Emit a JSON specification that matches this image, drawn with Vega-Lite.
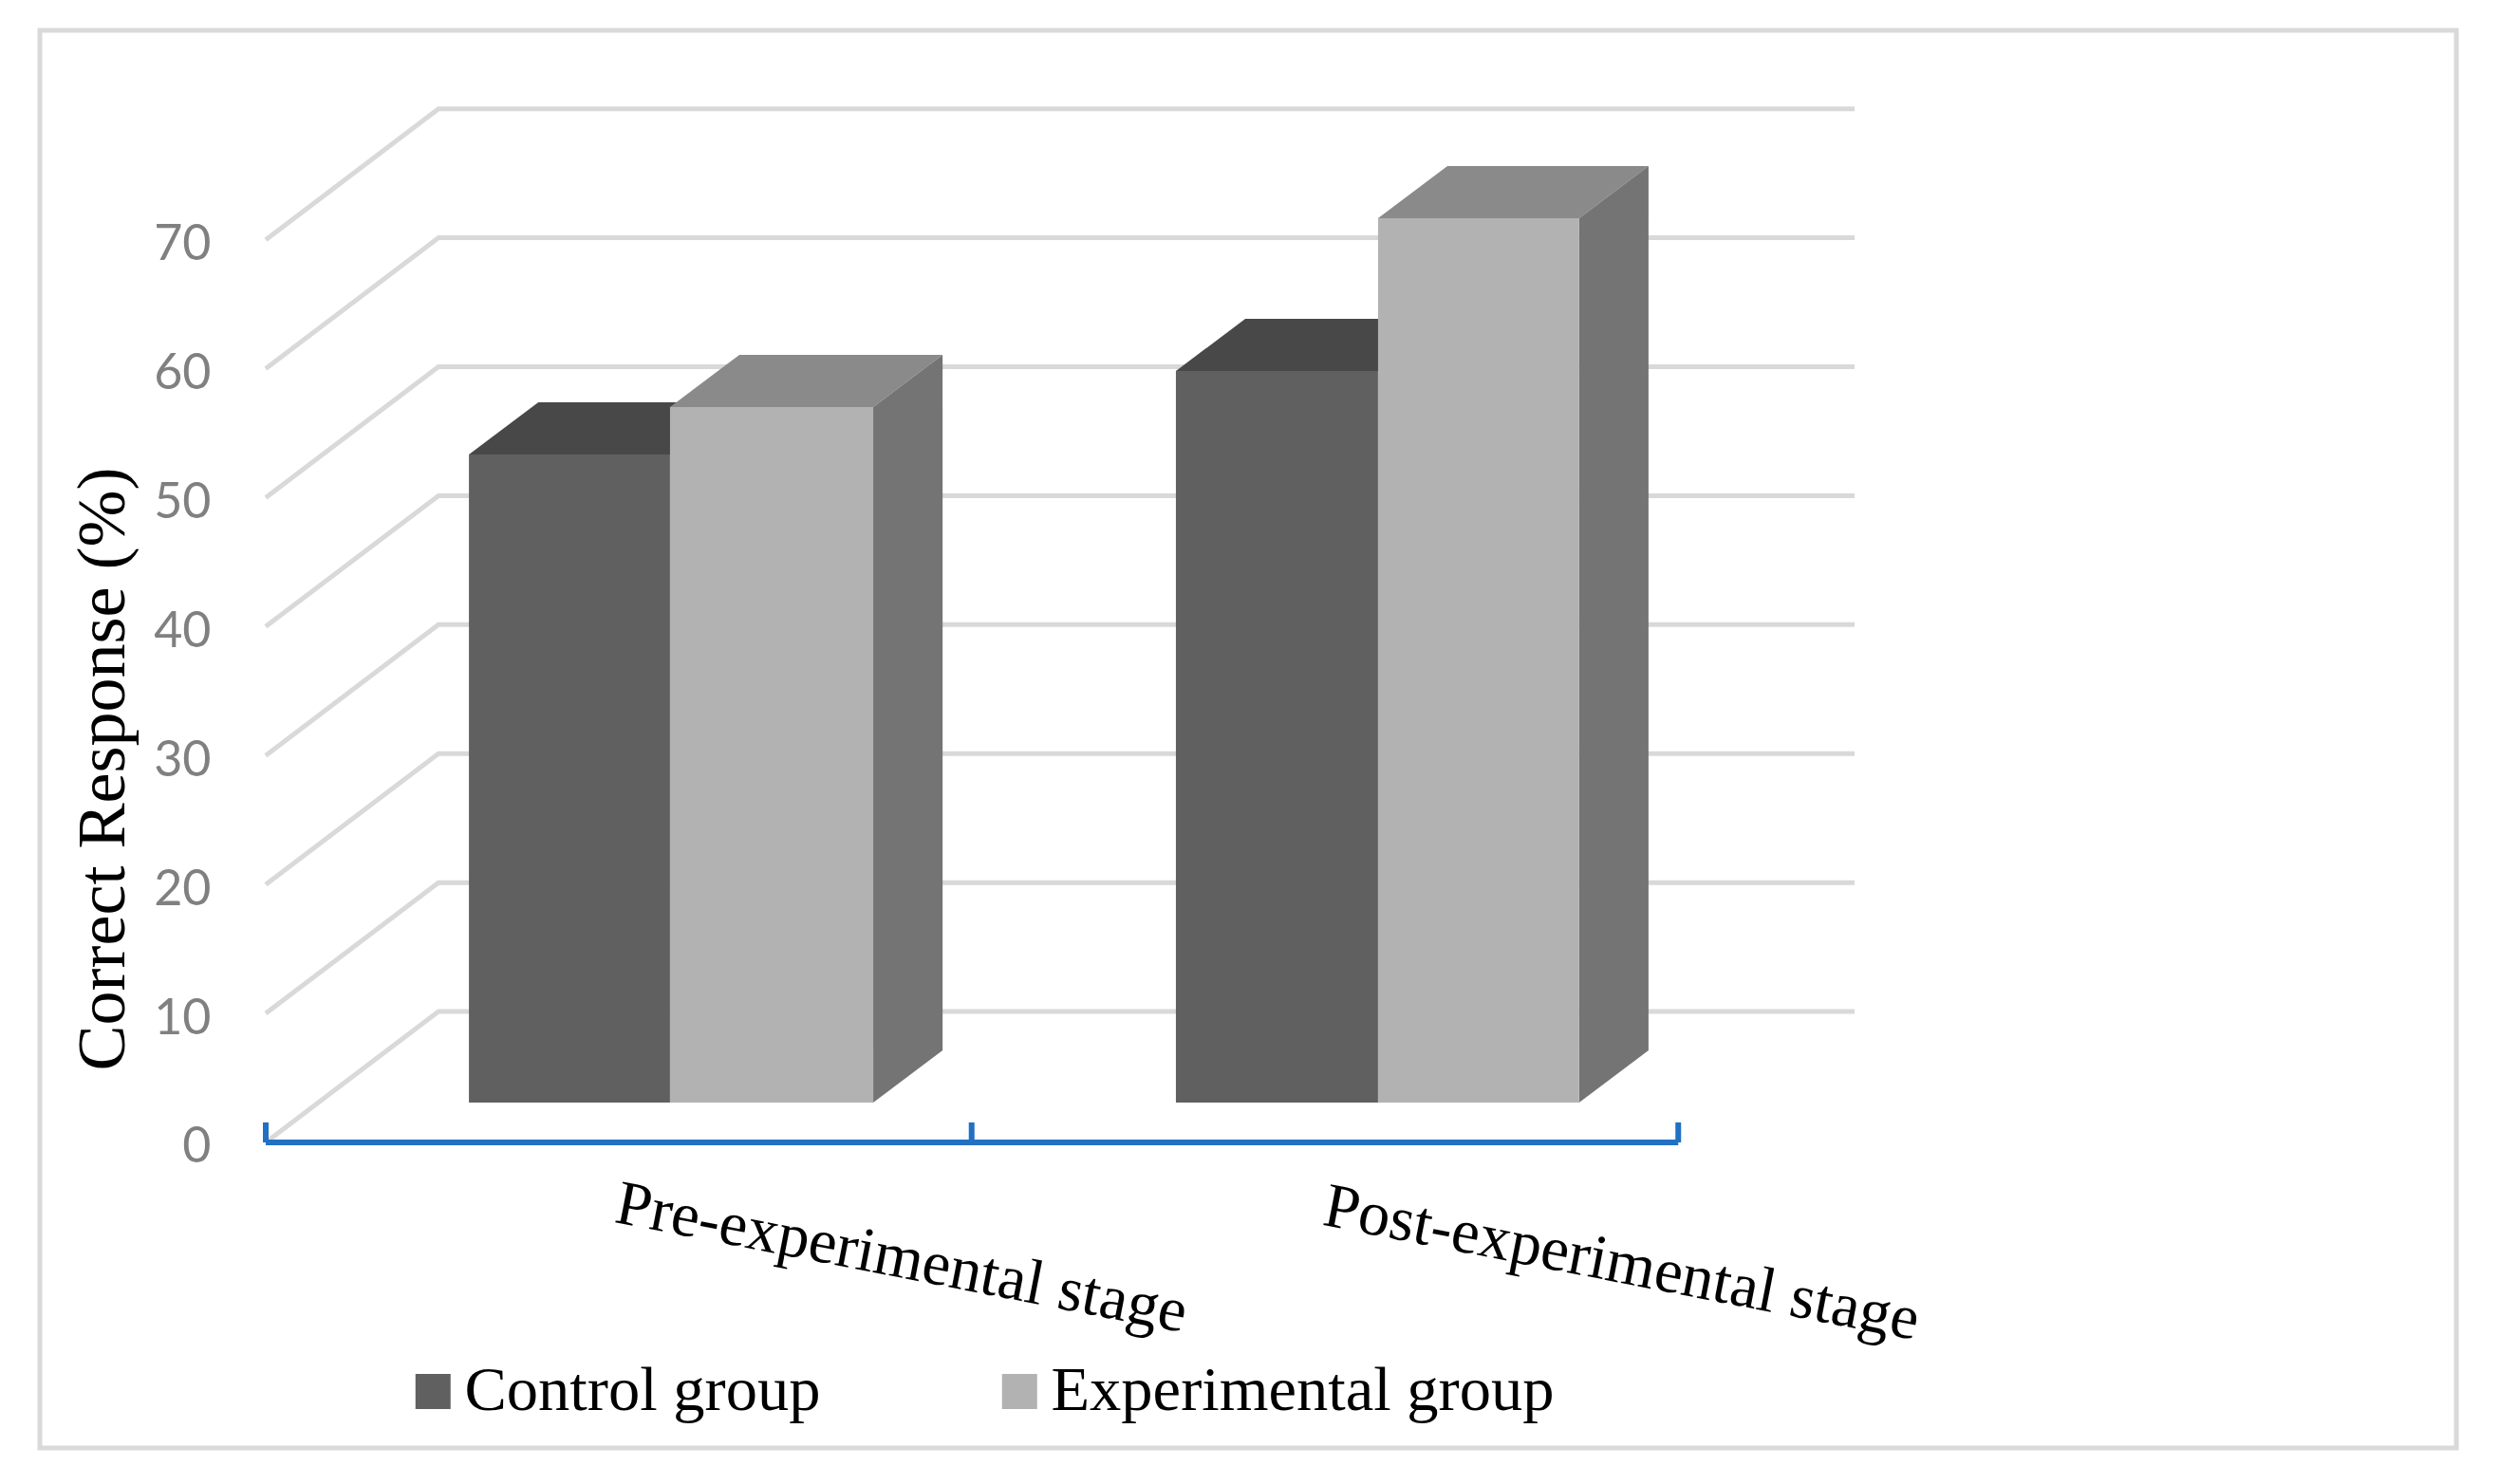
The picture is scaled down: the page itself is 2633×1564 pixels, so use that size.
{"$schema":"https://vega.github.io/schema/vega-lite/v6.json","width":2633,"height":1564,"autosize":{"type":"fit","contains":"padding"},"padding":0,"background":"white","config":{"view":{"stroke":null}},
"resolve":{"axis":{"y":"independent","x":"independent"}},
"datasets":{
"frame":[{"x0":-0.319,"x1":3.094,"y0":-23.69,"y1":86.24}],
"grid":[{"level":0,"x":0,"y":0},{"level":0,"x":0.244,"y":10.15},{"level":0,"x":2.244,"y":10.15},
{"level":10,"x":0,"y":10},{"level":10,"x":0.244,"y":20.15},{"level":10,"x":2.244,"y":20.15},
{"level":20,"x":0,"y":20},{"level":20,"x":0.244,"y":30.15},{"level":20,"x":2.244,"y":30.15},
{"level":30,"x":0,"y":30},{"level":30,"x":0.244,"y":40.15},{"level":30,"x":2.244,"y":40.15},
{"level":40,"x":0,"y":40},{"level":40,"x":0.244,"y":50.15},{"level":40,"x":2.244,"y":50.15},
{"level":50,"x":0,"y":50},{"level":50,"x":0.244,"y":60.15},{"level":50,"x":2.244,"y":60.15},
{"level":60,"x":0,"y":60},{"level":60,"x":0.244,"y":70.15},{"level":60,"x":2.244,"y":70.15},
{"level":70,"x":0,"y":70},{"level":70,"x":0.244,"y":80.15},{"level":70,"x":2.244,"y":80.15}],
"baseline":[{"x0":0,"x1":1.995,"y":0}],
"ticks":[{"x":0,"y0":0,"y1":1.55},{"x":0.997,"y0":0,"y1":1.55},{"x":1.995,"y0":0,"y1":1.55}],
"controlTop":[{"stage":"Pre","x":0.287,"y":53.35,"y2":53.35},{"stage":"Pre","x":0.385,"y":53.35,"y2":57.4},{"stage":"Pre","x":0.571,"y":53.35,"y2":57.4},{"stage":"Pre","x":0.669,"y":57.4,"y2":57.4},
{"stage":"Post","x":1.2855,"y":59.82,"y2":59.82},{"stage":"Post","x":1.3835,"y":59.82,"y2":63.87},{"stage":"Post","x":1.571,"y":59.82,"y2":63.87},{"stage":"Post","x":1.669,"y":63.87,"y2":63.87}],
"expTop":[{"stage":"Pre","x":0.571,"y":57.03,"y2":57.03},{"stage":"Pre","x":0.669,"y":57.03,"y2":61.08},{"stage":"Pre","x":0.858,"y":57.03,"y2":61.08},{"stage":"Pre","x":0.956,"y":61.08,"y2":61.08},
{"stage":"Post","x":1.571,"y":71.67,"y2":71.67},{"stage":"Post","x":1.669,"y":71.67,"y2":75.72},{"stage":"Post","x":1.855,"y":71.67,"y2":75.72},{"stage":"Post","x":1.953,"y":75.72,"y2":75.72}],
"side":[{"stage":"Pre","x":0.858,"y":3.09,"y2":57.03},{"stage":"Pre","x":0.956,"y":7.14,"y2":61.08},
{"stage":"Post","x":1.855,"y":3.09,"y2":71.67},{"stage":"Post","x":1.953,"y":7.14,"y2":75.72}],
"bars":[{"stage":"Pre-experimental stage","group":"Control group","x0":0.287,"x1":0.571,"floor":3.09,"top":53.35},
{"stage":"Pre-experimental stage","group":"Experimental group","x0":0.571,"x1":0.858,"floor":3.09,"top":57.03},
{"stage":"Post-experimental stage","group":"Control group","x0":1.2855,"x1":1.571,"floor":3.09,"top":59.82},
{"stage":"Post-experimental stage","group":"Experimental group","x0":1.571,"x1":1.855,"floor":3.09,"top":71.67}],
"labels":[{"stage":"Pre-experimental stage","x":0.898,"y":-9.0},{"stage":"Post-experimental stage","x":1.915,"y":-9.4}]
},
"layer":[
{"data":{"name":"frame"},"mark":{"type":"rect","fill":null,"stroke":"#d9d9d9","strokeWidth":5},"encoding":{"x":{"field":"x0","type":"quantitative","scale":{"domain":[-0.3753,3.1542],"nice":false,"zero":false},"axis":null},"x2":{"field":"x1"},"y":{"field":"y0","type":"quantitative","scale":{"domain":[-26.49,88.59],"nice":false,"zero":false},"axis":null},"y2":{"field":"y1"}}},
{"data":{"name":"grid"},"mark":{"type":"line","color":"#d9d9d9","strokeWidth":5,"strokeJoin":"miter"},"encoding":{"x":{"field":"x","type":"quantitative","axis":null},"y":{"field":"y","type":"quantitative","axis":{"values":[0,10,20,30,40,50,60,70],"offset":-222,"domain":false,"ticks":false,"grid":false,"labelPadding":0,"labelOffset":5,"labelFont":"Lato","labelFontSize":52,"labelColor":"#808080","title":"Correct Response (%)","titleFont":"Liberation Serif","titleFontSize":72,"titleFontWeight":"normal","titleColor":"black","titleX":-92,"titleY":810,"titleAngle":-90,"titleAlign":"center","titleBaseline":"alphabetic"}},"detail":{"field":"level","type":"nominal"}}},
{"data":{"name":"baseline"},"mark":{"type":"rule","color":"#2170c4","strokeWidth":6},"encoding":{"x":{"field":"x0","type":"quantitative","axis":null},"x2":{"field":"x1"},"y":{"field":"y","type":"quantitative","axis":null}}},
{"data":{"name":"ticks"},"mark":{"type":"rule","color":"#2170c4","strokeWidth":6},"encoding":{"x":{"field":"x","type":"quantitative","axis":null},"y":{"field":"y0","type":"quantitative","axis":null},"y2":{"field":"y1"}}},
{"data":{"name":"controlTop"},"mark":{"type":"area","color":"#484848"},"encoding":{"x":{"field":"x","type":"quantitative","axis":null},"y":{"field":"y","type":"quantitative","axis":null},"y2":{"field":"y2"},"detail":{"field":"stage","type":"nominal"}}},
{"data":{"name":"expTop"},"mark":{"type":"area","color":"#8a8a8a"},"encoding":{"x":{"field":"x","type":"quantitative","axis":null},"y":{"field":"y","type":"quantitative","axis":null},"y2":{"field":"y2"},"detail":{"field":"stage","type":"nominal"}}},
{"data":{"name":"side"},"mark":{"type":"area","color":"#747474"},"encoding":{"x":{"field":"x","type":"quantitative","axis":null},"y":{"field":"y","type":"quantitative","axis":null},"y2":{"field":"y2"},"detail":{"field":"stage","type":"nominal"}}},
{"data":{"name":"bars"},"mark":{"type":"rect"},"encoding":{"x":{"field":"x0","type":"quantitative","axis":null},"x2":{"field":"x1"},"y":{"field":"floor","type":"quantitative","axis":null},"y2":{"field":"top"},"color":{"field":"group","type":"nominal","scale":{"domain":["Control group","Experimental group"],"range":["#606060","#b2b2b2"]},"legend":{"orient":"none","legendX":423,"legendY":1433,"direction":"horizontal","title":null,"symbolType":"square","symbolSize":1369,"symbolStrokeWidth":0,"labelFont":"Liberation Serif","labelFontSize":66.5,"labelColor":"black","labelOffset":0,"labelLimit":0,"columnPadding":176,"padding":0}}}},
{"data":{"name":"labels"},"mark":{"type":"text","font":"Liberation Serif","fontSize":66.5,"angle":11,"align":"center","baseline":"middle","color":"black"},"encoding":{"x":{"field":"x","type":"quantitative","axis":null},"y":{"field":"y","type":"quantitative","axis":null},"text":{"field":"stage","type":"nominal"}}}
]}
